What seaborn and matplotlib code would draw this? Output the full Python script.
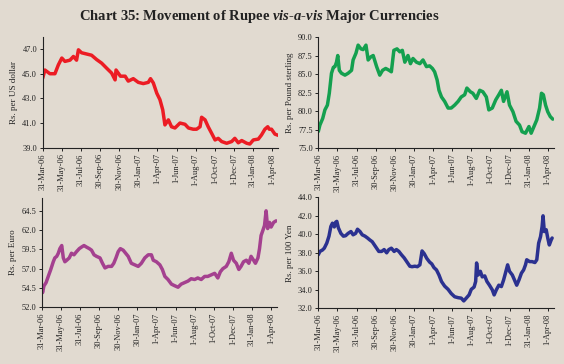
import matplotlib
matplotlib.use("Agg")
import matplotlib.pyplot as plt
from matplotlib.ticker import FormatStrFormatter
import seaborn as sns
import pandas as pd

# x axis ticks (dates) and labels
tick_dates = ["2006-03-31", "2006-05-31", "2006-07-31", "2006-09-30", "2006-11-30",
              "2007-01-30", "2007-04-01", "2007-06-01", "2007-08-01", "2007-10-01",
              "2007-12-01", "2008-01-31", "2008-04-01"]
tick_labels = ["31-Mar-06", "31-May-06", "31-Jul-06", "30-Sep-06", "30-Nov-06",
               "30-Jan-07", "1-Apr-07", "1-Jun-07", "1-Aug-07", "1-Oct-07",
               "1-Dec-07", "31-Jan-08", "1-Apr-08"]
START = pd.Timestamp("2006-03-31")

# days since 31-Mar-06 and Rs. per unit
usd_day = [0, 7, 23, 39, 50, 61, 71, 87, 98, 108, 114, 124, 140, 156, 172, 188, 204, 220,
           231, 234, 248, 263, 273, 289, 305, 321, 337, 344, 353, 364, 374, 383, 390, 401,
           411, 422, 438, 454, 465, 480, 491, 502, 507, 518, 528, 539, 550, 560, 571, 587,
           603, 613, 624, 635, 651, 661, 672, 688, 698, 709, 718, 723, 730, 741, 752]
usd_rate = [44.64, 45.3, 45.0, 45.0, 45.72, 46.27, 46.0, 46.1, 46.4, 46.1, 46.94, 46.7,
            46.6, 46.5, 46.15, 45.86, 45.45, 45.05, 44.5, 45.3, 44.8, 44.8, 44.4, 44.6,
            44.3, 44.2, 44.3, 44.6, 44.25, 43.42, 42.9, 42.07, 40.85, 41.26, 40.7, 40.6,
            41.0, 40.9, 40.6, 40.5, 40.5, 40.7, 41.47, 41.26, 40.7, 40.17, 39.63, 39.76,
            39.5, 39.36, 39.5, 39.76, 39.4, 39.58, 39.36, 39.3, 39.63, 39.7, 40.03, 40.5,
            40.7, 40.5, 40.5, 40.1, 40.0]

gbp_day = [0, 5, 14, 21, 29, 35, 42, 48, 53, 58, 62, 67, 74, 85, 95, 106, 111, 120, 127,
           136, 143, 152, 159, 167, 175, 186, 196, 205, 215, 226, 233, 241, 251, 260, 268,
           276, 286, 294, 302, 313, 324, 334, 345, 355, 364, 371, 379, 385, 393, 403, 414,
           424, 435, 446, 456, 467, 474, 485, 493, 504, 515, 525, 536, 544, 555, 566, 576,
           584, 591, 602, 610, 621, 631, 642, 650, 661, 672, 679, 690, 697, 706, 712, 718,
           725, 732, 740, 748]
gbp_rate = [77.24, 78.1, 79.0, 80.15, 80.8, 82.4, 85.1, 85.9, 86.0, 86.6, 87.5, 85.5, 85.1,
            84.85, 85.1, 85.5, 86.9, 87.8, 88.9, 88.4, 88.3, 88.9, 86.9, 87.3, 87.5, 86.0,
            84.85, 85.5, 85.75, 85.5, 85.3, 88.2, 88.4, 88.0, 88.2, 86.6, 87.5, 86.4, 87.1,
            86.6, 86.4, 86.9, 86.0, 86.1, 85.75, 85.3, 84.2, 82.8, 81.9, 81.3, 80.4, 80.4,
            80.8, 81.3, 81.9, 82.2, 83.1, 82.6, 82.4, 81.7, 82.8, 82.6, 81.9, 80.15, 80.4,
            81.5, 82.2, 82.8, 81.3, 82.6, 80.8, 79.9, 78.6, 78.1, 77.2, 77.0, 77.9, 77.0,
            78.1, 78.8, 80.4, 82.4, 82.2, 80.8, 79.9, 79.25, 78.9]

eur_day = [0, 3, 7, 14, 21, 29, 37, 42, 48, 53, 58, 64, 69, 74, 80, 88, 95, 103, 111, 120,
           127, 135, 143, 152, 159, 167, 175, 186, 194, 202, 212, 223, 230, 237, 244, 251,
           260, 268, 276, 286, 297, 308, 318, 329, 340, 350, 356, 366, 377, 385, 393, 403,
           414, 424, 435, 445, 456, 467, 477, 488, 498, 509, 520, 530, 541, 552, 562, 570,
           578, 589, 597, 605, 612, 621, 629, 636, 644, 653, 661, 668, 676, 682, 690, 695,
           700, 706, 711, 716, 721, 727, 732, 740, 748]
eur_rate = [54.33, 53.9, 54.75, 55.2, 56.0, 56.9, 57.9, 58.4, 58.6, 59.0, 59.6, 60.0, 58.4,
            57.9, 58.1, 58.4, 59.0, 58.8, 59.2, 59.6, 59.8, 60.0, 59.8, 59.6, 59.4, 58.8,
            58.6, 58.4, 57.7, 57.1, 57.3, 57.3, 57.7, 58.4, 59.2, 59.6, 59.4, 59.0, 58.6,
            57.7, 57.5, 57.3, 57.7, 58.4, 58.8, 58.8, 58.1, 57.9, 57.5, 56.9, 56.0, 55.6,
            55.0, 54.8, 54.6, 55.0, 55.2, 55.4, 55.7, 55.6, 55.8, 55.6, 56.0, 56.0, 56.2,
            56.4, 55.8, 56.6, 57.0, 57.3, 57.9, 59.0, 58.1, 57.7, 56.9, 57.3, 57.9, 58.1,
            57.7, 58.6, 58.1, 57.7, 58.4, 59.6, 61.3, 62.0, 62.6, 64.5, 62.2, 63.0, 62.4,
            63.0, 63.2]

jpy_day = [0, 5, 13, 19, 27, 34, 40, 45, 51, 55, 59, 64, 72, 80, 87, 95, 104, 111, 119,
           125, 133, 140, 149, 157, 164, 172, 178, 186, 193, 202, 210, 218, 225, 233, 242,
           249, 257, 265, 274, 281, 292, 299, 308, 316, 324, 331, 338, 346, 355, 362, 369,
           377, 385, 393, 403, 414, 424, 435, 446, 456, 464, 472, 481, 488, 497, 502, 505,
           510, 517, 523, 531, 538, 546, 555, 561, 568, 576, 584, 591, 597, 604, 610, 619,
           626, 633, 640, 648, 655, 661, 665, 674, 682, 691, 697, 703, 709, 714, 717, 721,
           727, 732, 737, 743, 746]
jpy_rate = [37.8, 38.15, 38.3, 38.5, 39.05, 39.8, 40.85, 41.2, 40.8, 41.3, 41.4, 40.7, 40.1,
            39.8, 39.85, 40.1, 40.3, 39.95, 40.1, 40.55, 40.3, 39.95, 39.8, 39.6, 39.4, 39.2,
            38.9, 38.5, 38.15, 38.15, 38.35, 38.0, 38.35, 38.5, 38.15, 38.35, 38.15, 37.8,
            37.45, 37.1, 36.55, 36.5, 36.55, 36.5, 36.7, 38.2, 37.9, 37.4, 37.0, 36.8, 36.4,
            36.15, 35.6, 34.9, 34.4, 34.05, 33.6, 33.25, 33.15, 33.1, 32.8, 33.1, 33.45,
            34.05, 34.3, 34.9, 36.9, 35.6, 36.0, 35.4, 35.5, 34.9, 34.5, 34.0, 33.45, 34.0,
            34.5, 34.35, 35.05, 35.8, 36.7, 36.0, 35.6, 35.05, 34.5, 35.05, 35.8, 36.15, 36.7,
            37.25, 37.05, 37.05, 36.95, 37.25, 39.05, 39.75, 40.85, 42.0, 40.3, 40.5, 39.6,
            38.85, 39.4, 39.6]

sns.set_style("ticks")
plt.rcParams["font.family"] = ["Liberation Serif", "DejaVu Serif"]
plt.rcParams["mathtext.fontset"] = "custom"
plt.rcParams["mathtext.it"] = "Liberation Serif:italic:bold"
plt.rcParams["mathtext.rm"] = "Liberation Serif:bold"

BG = "#e1dad0"
fig = plt.figure(figsize=(5.64, 3.64), dpi=100, facecolor=BG)

panels = [
    ([0.0757, 0.5942, 0.4179, 0.3049], usd_day, usd_rate, "#ec1c24",
     "Rs. per US dollar", (39.0, 48.0), [39.0, 41.0, 43.0, 45.0, 47.0]),
    ([0.5644, 0.5934, 0.4179, 0.3049], gbp_day, gbp_rate, "#14a04f",
     "Rs. per Pound sterling", (75.0, 90.0), [75.0, 77.5, 80.0, 82.5, 85.0, 87.5, 90.0]),
    ([0.0739, 0.1558, 0.4179, 0.3011], eur_day, eur_rate, "#a4408f",
     "Rs. per Euro", (52.0, 66.2), [52.0, 54.5, 57.0, 59.5, 62.0, 64.5]),
    ([0.5644, 0.1530, 0.4179, 0.3049], jpy_day, jpy_rate, "#2b3190",
     "Rs. per 100 Yen", (32.0, 44.0), [32.0, 34.0, 36.0, 38.0, 40.0, 42.0, 44.0]),
]

for rect, days, rates, color, ylabel, ylim, yticks in panels:
    ax = fig.add_axes(rect)
    ax.set_facecolor(BG)
    dates = START + pd.to_timedelta(days, unit="D")
    sns.lineplot(x=dates, y=rates, ax=ax, color=color, linewidth=2.5)
    ax.set_xlim(START, START + pd.Timedelta(days=752))
    ax.set_ylim(*ylim)
    ax.set_yticks(yticks)
    ax.yaxis.set_major_formatter(FormatStrFormatter("%.1f"))
    ax.set_xticks(pd.to_datetime(tick_dates))
    ax.set_xticklabels(tick_labels, rotation=90)
    ax.set_ylabel(ylabel, fontsize=6.5, labelpad=3)
    ax.set_xlabel("")
    ax.tick_params(axis="both", labelsize=6, length=2.5, width=0.7, pad=1.5,
                   colors="#222222")
    for side in ["top", "right"]:
        ax.spines[side].set_visible(False)
    for side in ["left", "bottom"]:
        ax.spines[side].set_linewidth(0.8)
        ax.spines[side].set_color("#222222")

fig.text(0.46, 1 - 16.5 / 364, "Chart 35: Movement of Rupee $vis$-$a$-$vis$ Major Currencies",
         ha="center", va="center", fontsize=10.5, fontweight="bold", color="#222222")

fig.savefig("out.png", dpi=100, facecolor=BG)
